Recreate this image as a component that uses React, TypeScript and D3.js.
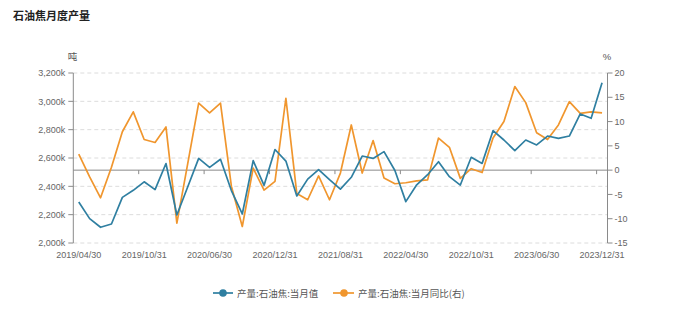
import React from "react";
import * as d3 from "d3";

const categories: string[] = [
  "2019/04/30","2019/05/31","2019/06/30","2019/07/31","2019/08/31","2019/09/30","2019/10/31","2019/11/30","2019/12/31",
  "2020/03/31","2020/04/30","2020/05/31","2020/06/30","2020/07/31","2020/08/31","2020/09/30","2020/10/31","2020/11/30","2020/12/31",
  "2021/03/31","2021/04/30","2021/05/31","2021/06/30","2021/07/31","2021/08/31","2021/09/30","2021/10/31","2021/11/30","2021/12/31",
  "2022/03/31","2022/04/30","2022/05/31","2022/06/30","2022/07/31","2022/08/31","2022/09/30","2022/10/31","2022/11/30","2022/12/31",
  "2023/03/31","2023/04/30","2023/05/31","2023/06/30","2023/07/31","2023/08/31","2023/09/30","2023/10/31","2023/11/30","2023/12/31",
];

// 产量:石油焦:当月值 (千吨, shown as k)
const monthly: number[] = [
  2290, 2172, 2111, 2134, 2322, 2372, 2432, 2377, 2561,
  2198, 2397, 2597, 2534, 2591, 2370, 2205, 2581, 2407, 2660,
  2578, 2332, 2451, 2518, 2447, 2380, 2464, 2614, 2597, 2645,
  2512, 2292, 2411, 2482, 2574, 2468, 2409, 2605, 2562, 2793,
  2727, 2652, 2727, 2692, 2755, 2739, 2755, 2911, 2880, 3132,
];

// 产量:石油焦:当月同比 (%)
const yoy: number[] = [
  3.3, -1.4, -5.7, 0.6, 7.9, 12.0, 6.3, 5.7, 8.9,
  -10.9, 1.4, 13.8, 11.8, 13.8, -3.3, -11.6, 0.4, -4.1, -2.3,
  14.8, -4.8, -6.1, -1.2, -6.1, -0.6, 9.3, -0.6, 6.1, -1.6,
  -2.8, -2.6, -2.2, -2.0, 6.6, 4.7, -1.7, 0.3, -0.5, 6.6,
  10.0, 17.2, 13.9, 7.7, 6.3, 9.3, 14.1, 11.7, 12.0, 11.8,
];

const leftTicks: number[] = [2000, 2200, 2400, 2600, 2800, 3000, 3200];
const rightTicks: number[] = [-15, -10, -5, 0, 5, 10, 15, 20];
const xLabelEvery = 6;

const BLUE = "#2f7fa1";
const ORANGE = "#f0962e";
const FONT = "'Liberation Sans', Arial, sans-serif";
const CJK = "'Noto Sans CJK SC', sans-serif";

export default function App() {
  const W = 680, H = 309;
  const left = 73.3, right = 607.5, top = 73, bottom = 243;

  const x = d3.scaleBand<string>().domain(categories).range([left, right]).padding(0);
  const cx = (c: string) => (x(c) as number) + x.bandwidth() / 2;
  const yL = d3.scaleLinear().domain([2000, 3200]).range([bottom, top]);
  const yR = d3.scaleLinear().domain([-15, 20]).range([bottom, top]);

  const lineL = d3.line<number>().x((_, i) => cx(categories[i])).y((d) => yL(d));
  const lineR = d3.line<number>().x((_, i) => cx(categories[i])).y((d) => yR(d));

  const fmt = (v: number) => d3.format(",")(v) + "k";
  const zeroY = yR(0);

  return (
    <svg width={W} height={H} style={{ position: "absolute", left: 0, top: 0, background: "#fff" }}>
      <text x={13} y={20} fontFamily={CJK} fontSize={11} fontWeight="bold" fill="#222">石油焦月度产量</text>
      <text x={72.5} y={60} fontFamily={CJK} fontSize={9.5} fill="#555" textAnchor="middle">吨</text>
      <text x={607} y={60} fontFamily={FONT} fontSize={9.5} fill="#555" textAnchor="middle">%</text>

      {leftTicks.map((t) => (
        <line key={"g" + t} x1={left} x2={right} y1={yL(t)} y2={yL(t)} stroke="#dcdcdc" strokeDasharray="4,3" strokeWidth={1} />
      ))}

      {/* left axis */}
      <line x1={left} x2={left} y1={top} y2={bottom} stroke="#8a8a8a" />
      {leftTicks.map((t) => (
        <g key={"l" + t}>
          <line x1={left - 5} x2={left} y1={yL(t)} y2={yL(t)} stroke="#8a8a8a" />
          <text x={left - 8} y={yL(t) + 3.2} fontFamily={FONT} fontSize={9} fill="#666" textAnchor="end">{fmt(t)}</text>
        </g>
      ))}

      {/* right axis */}
      <line x1={right} x2={right} y1={top} y2={bottom} stroke="#8a8a8a" />
      {rightTicks.map((t) => (
        <g key={"r" + t}>
          <line x1={right} x2={right + 5} y1={yR(t)} y2={yR(t)} stroke="#8a8a8a" />
          <text x={right + 7} y={yR(t) + 3.2} fontFamily={FONT} fontSize={9} fill="#666" textAnchor="start">{t}</text>
        </g>
      ))}

      {/* category axis at zero */}
      <line x1={left} x2={right} y1={zeroY} y2={zeroY} stroke="#8a8a8a" />
      {categories.map((c, i) =>
        i % xLabelEvery === 0 && i > 0 ? (
          <line key={"t" + c} x1={x(c) as number} x2={x(c) as number} y1={zeroY} y2={zeroY + 4} stroke="#8a8a8a" />
        ) : null
      )}
      {categories.map((c, i) =>
        i % xLabelEvery === 0 ? (
          <text key={"x" + c} x={cx(c)} y={258} fontFamily={FONT} fontSize={9} fill="#666" textAnchor="middle">{c}</text>
        ) : null
      )}

      <path d={lineR(yoy) as string} fill="none" stroke={ORANGE} strokeWidth={1.7} strokeLinejoin="round" />
      <path d={lineL(monthly) as string} fill="none" stroke={BLUE} strokeWidth={1.7} strokeLinejoin="round" />

      {/* legend */}
      <g>
        <line x1={213} x2={233} y1={293} y2={293} stroke={BLUE} strokeWidth={1.7} />
        <circle cx={223} cy={293} r={3.8} fill={BLUE} />
        <text x={237} y={296.5} fontFamily={CJK} fontSize={9.5} fill="#555">产量:石油焦:当月值</text>
        <line x1={333} x2={354} y1={293} y2={293} stroke={ORANGE} strokeWidth={1.7} />
        <circle cx={344} cy={293} r={3.8} fill={ORANGE} />
        <text x={358} y={296.5} fontFamily={CJK} fontSize={9.5} fill="#555">产量:石油焦:当月同比(右)</text>
      </g>
    </svg>
  );
}
